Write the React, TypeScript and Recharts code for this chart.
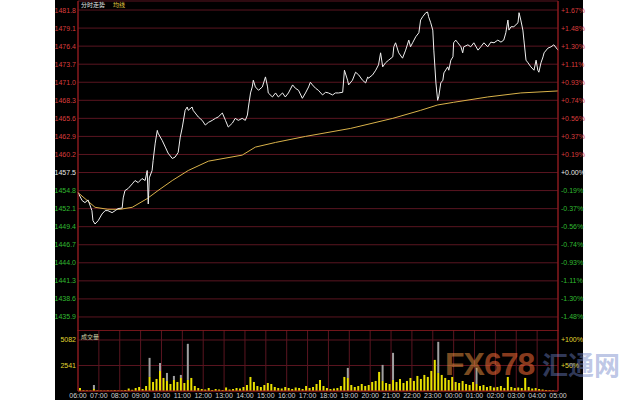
import React from 'react';
import { ComposedChart, Line, Bar, XAxis, YAxis, CartesianGrid, ReferenceLine } from 'recharts';

// hour labels along the bottom, 06:00 through 05:00 next day
const hourLabels = [
  '06:00', '07:00', '08:00', '09:00', '10:00', '11:00', '12:00', '13:00', '14:00', '15:00', '16:00', '17:00',
  '18:00', '19:00', '20:00', '21:00', '22:00', '23:00', '00:00', '01:00', '02:00', '03:00', '04:00', '05:00',
];
const hourTicks = hourLabels.map((_, i) => i * 60);

const basePrice = 1457.5;
const priceTicks = [
  1481.8, 1479.1, 1476.4, 1473.7, 1471.0, 1468.3, 1465.6, 1462.9, 1460.2,
  1457.5, 1454.8, 1452.1, 1449.4, 1446.7, 1444.0, 1441.3, 1438.6, 1435.9,
];
const priceDomain = [1433.8, 1483.15];

// minutes after 06:00
const priceMinutes = [
  0, 12, 20, 29, 40, 43, 49, 58, 69, 78, 86, 98, 107, 115, 127, 130, 135, 144, 156, 164,
  173, 184, 193, 199, 202, 205, 213, 216, 222, 228, 230, 242, 251, 259, 271, 279, 288, 294, 300, 308,
  314, 317, 328, 331, 337, 346, 357, 366, 375, 386, 395, 403, 415, 424, 432, 444, 452, 461, 472, 481,
  487, 490, 496, 501, 504, 510, 519, 530, 539, 545, 547, 559, 568, 576, 588, 596, 605, 617, 625, 634,
  645, 654, 663, 668, 674, 683, 691, 703, 712, 720, 732, 740, 749, 761, 766, 775, 778, 789, 798, 807,
  818, 827, 833, 835, 847, 856, 864, 870, 876, 884, 893, 905, 908, 913, 922, 933, 942, 951, 956, 962,
  971, 980, 985, 991, 1000, 1005, 1008, 1014, 1020, 1023, 1029, 1034, 1037, 1043, 1049, 1052, 1063, 1066, 1072, 1078,
  1080, 1086, 1092, 1101, 1106, 1109, 1121, 1129, 1138, 1150, 1158, 1167, 1178, 1187, 1196, 1207, 1216, 1224, 1230, 1236,
  1239, 1245, 1253, 1265, 1268, 1273, 1279, 1282, 1288, 1294, 1302, 1311, 1317, 1322, 1325, 1331, 1337, 1340, 1351, 1360,
  1368, 1380,
];
const priceValues = [
  1454.5, 1453.3, 1453.0, 1453.4, 1451.8, 1450.3, 1449.8, 1450.3, 1451.3, 1451.8, 1451.8, 1451.5, 1451.8, 1452.1, 1452.2, 1453.7, 1454.8, 1455.1, 1455.8, 1456.3,
  1456.0, 1456.6, 1456.3, 1457.8, 1452.8, 1456.7, 1457.8, 1459.3, 1461.9, 1463.8, 1463.4, 1462.3, 1461.3, 1460.4, 1459.6, 1459.8, 1460.5, 1462.8, 1464.3, 1466.8,
  1467.3, 1466.8, 1467.3, 1466.8, 1466.4, 1465.8, 1465.3, 1464.6, 1465.0, 1465.3, 1465.6, 1465.8, 1466.4, 1465.3, 1464.3, 1464.9, 1465.6, 1465.3, 1465.6, 1465.3,
  1466.1, 1467.3, 1469.4, 1470.3, 1471.3, 1470.3, 1469.8, 1470.3, 1471.8, 1470.3, 1469.4, 1468.8, 1469.4, 1468.8, 1469.4, 1468.8, 1469.4, 1470.6, 1470.1, 1469.8,
  1468.6, 1469.4, 1470.3, 1471.0, 1470.6, 1470.1, 1469.8, 1469.1, 1469.5, 1469.4, 1469.1, 1469.4, 1469.4, 1469.5, 1472.8, 1471.3, 1470.6, 1471.3, 1472.5, 1472.1,
  1471.3, 1470.9, 1471.8, 1471.6, 1472.1, 1472.8, 1473.6, 1475.4, 1473.3, 1473.9, 1474.3, 1474.8, 1476.3, 1476.9, 1475.4, 1474.6, 1475.8, 1477.3, 1476.3, 1476.9,
  1477.8, 1478.4, 1480.3, 1480.8, 1481.4, 1481.5, 1480.8, 1479.9, 1478.8, 1475.8, 1470.9, 1468.3, 1468.8, 1470.9, 1471.3, 1472.4, 1473.3, 1472.8, 1474.3, 1474.8,
  1476.9, 1477.3, 1476.9, 1476.3, 1475.4, 1476.3, 1476.6, 1476.3, 1476.9, 1475.8, 1476.3, 1476.9, 1476.3, 1477.0, 1476.9, 1477.3, 1477.0, 1477.3, 1478.4, 1480.3,
  1478.8, 1479.3, 1479.3, 1479.9, 1481.4, 1480.3, 1478.8, 1477.3, 1474.3, 1473.9, 1473.3, 1472.8, 1474.3, 1472.8, 1472.5, 1473.9, 1474.8, 1475.4, 1476.1, 1476.3,
  1476.6, 1475.8,
];

const avgMinutes = [0, 49, 86, 121, 156, 199, 230, 271, 317, 375, 472, 510, 568, 654, 784, 905, 985, 1034, 1080, 1178, 1273, 1380];
const avgValues = [
  1454.5, 1452.3, 1452.0, 1452.0, 1452.3, 1453.6, 1454.8, 1456.3, 1457.8, 1459.2, 1460.1,
  1461.3, 1462.0, 1462.9, 1464.1, 1465.6, 1466.8, 1467.6, 1468.0, 1468.8, 1469.4, 1469.7,
];

// volume per 10-minute bucket, yellow part and grey spike on top
const volYellow = [
  300, 80, 60, 50, 200, 60, 50, 40, 60, 50, 80, 50, 60, 100, 250, 120, 300, 400, 200, 500,
  1400, 900, 1200, 2000, 1300, 1000, 700, 1100, 900, 1300, 800, 1100, 1300, 500, 300, 200, 150, 300, 100, 200,
  150, 100, 350, 150, 200, 300, 250, 400, 600, 1400, 900, 500, 400, 600, 800, 700, 400, 300, 250, 400,
  300, 200, 350, 300, 200, 500, 300, 400, 700, 1100, 500, 300, 200, 250, 300, 500, 1400, 1300, 600, 400,
  500, 700, 500, 600, 900, 1000, 1900, 1000, 800, 700, 1100, 900, 1200, 800, 1000, 1300, 1000, 1500, 1200, 1600,
  1400, 2000, 3100, 1800, 1600, 1300, 1100, 1400, 900, 800, 1000, 700, 600, 900, 700, 500, 600, 400, 500, 350,
  400, 500, 300, 1400, 400, 300, 350, 300, 1300, 400, 250, 300, 200, 150, 100, 80, 60, 0,
];
const volGray = [
  0, 0, 0, 0, 400, 0, 0, 0, 0, 0, 0, 0, 0, 0, 0, 0, 0, 0, 0, 0,
  1900, 0, 0, 800, 0, 800, 0, 400, 0, 300, 0, 3600, 0, 0, 0, 0, 0, 0, 0, 0,
  0, 0, 0, 0, 0, 0, 0, 0, 0, 0, 0, 0, 0, 0, 0, 0, 0, 0, 0, 0,
  0, 0, 0, 0, 0, 0, 0, 0, 0, 0, 0, 0, 0, 0, 0, 0, 0, 1000, 0, 0,
  0, 0, 0, 0, 0, 0, 0, 1600, 0, 0, 2700, 0, 0, 0, 0, 0, 0, 0, 0, 0,
  0, 0, 0, 3100, 0, 0, 0, 0, 0, 0, 0, 0, 0, 0, 1600, 0, 0, 0, 0, 0,
  0, 0, 0, 0, 0, 0, 0, 0, 0, 0, 0, 0, 0, 0, 0, 0, 0, 0,
];
const volTicks = [2541, 5082];
const volDomain = [0, 6078];

const priceData = priceMinutes.map((m, i) => ({ m, price: priceValues[i] }));
const avgData = avgMinutes.map((m, i) => ({ m, avg: avgValues[i] }));
const volumeData = volYellow.map((v, i) => ({ m: i * 10 + 5, vol: v, spike: volGray[i] }));

const GRID = '#5a1520';
const AXIS = '#a01c1c';
const RED = '#d83c3c';
const GREEN = '#30bb30';
const YELLOW = '#e0d830';
const FONT = '"Liberation Sans", Arial, sans-serif';

const priceColor = (v: number) => (Math.abs(v - basePrice) < 0.01 ? '#e8e8e8' : v > basePrice ? RED : GREEN);

const PriceTick = (props: any) => {
  const { x, y, payload, side } = props;
  const v = payload.value as number;
  let txt = v.toFixed(1);
  if (side === 'right') {
    const pct = ((v - basePrice) / basePrice) * 100;
    txt = (pct < -0.001 ? '-' : '+') + Math.abs(pct).toFixed(2) + '%';
  }
  return (
    <text x={x} y={y} dy={2.5} textAnchor={side === 'right' ? 'start' : 'end'} fontSize={7} fontFamily={FONT} fill={priceColor(v)}>
      {txt}
    </text>
  );
};

const VolTick = (props: any) => {
  const { x, y, payload, side } = props;
  const v = payload.value as number;
  const txt = side === 'right' ? `+${Math.round((v / 5082) * 100)}%` : String(v);
  return (
    <text x={x} y={y} dy={2.5} textAnchor={side === 'right' ? 'start' : 'end'} fontSize={7} fontFamily={FONT} fill={YELLOW}>
      {txt}
    </text>
  );
};

const TimeTick = (props: any) => {
  const { x, y, payload } = props;
  return (
    <text x={x} y={y} dy={7} textAnchor="middle" fontSize={7} fontFamily={FONT} fill="#d0d0d0">
      {hourLabels[Math.round(payload.value / 60)]}
    </text>
  );
};

export default function App() {
  return (
    <div style={{ position: 'absolute', left: 0, top: 0, width: 640, height: 400, background: '#fff', overflow: 'hidden' }}>
      <div style={{ position: 'absolute', left: 55, top: 0, width: 528, height: 400, background: '#000' }} />

      <div style={{ position: 'absolute', left: 0, top: 0 }}>
        <ComposedChart width={640} height={331} margin={{ top: 1, right: 57, bottom: 0, left: 55 }}>
          <CartesianGrid yAxisId="left" stroke={GRID} />
          <XAxis type="number" dataKey="m" domain={[0, 1380]} ticks={hourTicks} tick={false} axisLine={false} tickLine={false} height={0} allowDuplicatedCategory={false} />
          <YAxis yAxisId="left" orientation="left" width={23} domain={priceDomain} ticks={priceTicks} interval={0} allowDataOverflow
            tickSize={0} tickMargin={2} tickLine={false} axisLine={{ stroke: AXIS }} tick={<PriceTick side="left" />} />
          <YAxis yAxisId="right" orientation="right" width={25} domain={priceDomain} ticks={priceTicks} interval={0} allowDataOverflow
            tickSize={0} tickMargin={3} tickLine={false} axisLine={{ stroke: AXIS }} tick={<PriceTick side="right" />} />
          <Line yAxisId="left" data={avgData} dataKey="avg" type="linear" stroke="#d9b24a" strokeWidth={1} dot={false} isAnimationActive={false} />
          <Line yAxisId="left" data={priceData} dataKey="price" type="linear" stroke="#f0f0f0" strokeWidth={1} dot={false} isAnimationActive={false} />
        </ComposedChart>
      </div>

      <div style={{ position: 'absolute', left: 0, top: 330 }}>
        <ComposedChart width={640} height={70} data={volumeData} margin={{ top: 0, right: 57, bottom: 0, left: 55 }}>
          <CartesianGrid yAxisId="left" stroke={GRID} />
          <XAxis type="number" dataKey="m" domain={[0, 1380]} ticks={hourTicks} interval={0} height={9}
            tickSize={0} tickMargin={0} tickLine={false} axisLine={{ stroke: AXIS }} tick={<TimeTick />} />
          <YAxis yAxisId="left" orientation="left" width={23} domain={volDomain} ticks={volTicks} interval={0} allowDataOverflow
            tickSize={0} tickMargin={2} tickLine={false} axisLine={{ stroke: AXIS }} tick={<VolTick side="left" />} />
          <YAxis yAxisId="right" orientation="right" width={25} domain={volDomain} ticks={volTicks} interval={0} allowDataOverflow
            tickSize={0} tickMargin={3} tickLine={false} axisLine={{ stroke: AXIS }} tick={<VolTick side="right" />} />
          <ReferenceLine yAxisId="left" y={volDomain[1]} stroke={AXIS} />
          <Bar yAxisId="left" dataKey="vol" stackId="v" fill="#e8e000" barSize={2} isAnimationActive={false} />
          <Bar yAxisId="left" dataKey="spike" stackId="v" fill="#a0a0a0" barSize={2} isAnimationActive={false} />
        </ComposedChart>
      </div>

      <div style={{ position: 'absolute', left: 81, top: 1, fontSize: 6, lineHeight: '8px', fontFamily: '"Noto Sans CJK SC", sans-serif', color: '#e8e8e8', whiteSpace: 'nowrap' }}>
        分时走势<span style={{ marginLeft: 8, color: '#e8d040' }}>均线</span>
      </div>
      <div style={{ position: 'absolute', left: 81, top: 333, fontSize: 6, lineHeight: '8px', fontFamily: '"Noto Sans CJK SC", sans-serif', color: '#d0d0a8' }}>
        成交量
      </div>

      <div style={{ position: 'absolute', left: 445, top: 348, fontSize: 32, lineHeight: '32px', fontWeight: 'bold', fontFamily: FONT, letterSpacing: -1, color: 'rgba(245,150,65,0.5)' }}>
        FX<span style={{ color: 'rgba(255,110,55,0.55)' }}>678</span>
      </div>
      <div style={{ position: 'absolute', left: 542, top: 349, fontSize: 26, lineHeight: '30px', fontWeight: 'bold', fontFamily: '"Noto Sans CJK SC", sans-serif', color: 'rgba(110,130,200,0.45)' }}>
        汇通网
      </div>
    </div>
  );
}
